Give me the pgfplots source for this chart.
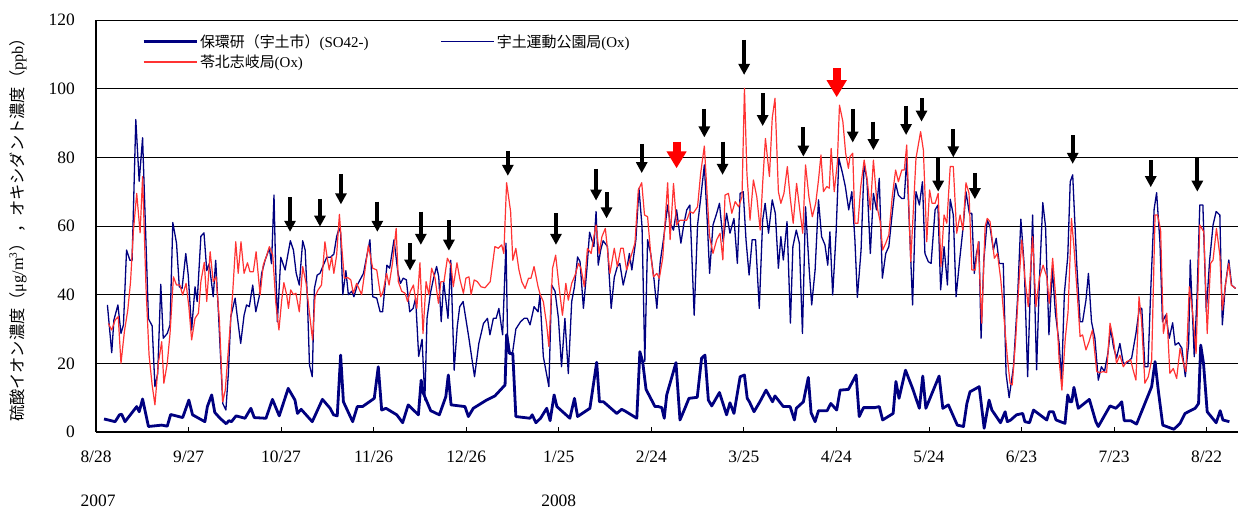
\documentclass[border=0pt]{standalone}
\usepackage{fontspec}
\setmainfont{Liberation Serif}
\newfontfamily\jp{Noto Sans CJK JP}
\usepackage{pgfplots}
\usepackage{pgfplotstable}
\pgfplotsset{compat=1.18}
\usetikzlibrary{arrows.meta}
\definecolor{navy}{RGB}{0,0,128}
\definecolor{oxred}{RGB}{255,51,51}

% sulfate ion, Hokanken (Uto city), ug/m3 ; x = days since 2007-08-28
\pgfplotstableread{
day val
2.6 3.8
6.2 3.0
7.6 5.0
8.3 5.2
9.4 3.0
13.2 7.4
14.0 5.9
15.1 9.6
17.0 1.6
21.3 2.0
23.1 1.7
24.2 5.1
28.1 4.2
30.1 9.3
31.3 5.0
35.3 3.0
36.1 7.4
37.5 10.8
38.5 5.7
40.2 4.0
42.2 2.4
43.1 3.3
43.9 3.0
45.4 4.7
48.3 4.0
50.2 6.9
51.3 4.2
55.1 4.0
57.2 9.5
59.4 4.7
62.3 12.7
64.5 9.3
65.3 5.4
66.5 6.6
70.1 3.0
73.4 9.5
75.9 6.9
77.0 5.0
78.2 4.7
79.3 22.4
80.2 8.8
83.2 3.0
84.7 7.4
86.4 7.4
90.2 9.8
91.5 19.0
92.6 6.4
94.0 6.9
97.5 5.0
99.4 2.7
101.2 7.9
104.5 5.0
105.4 15.1
106.1 11.3
108.5 6.2
111.3 5.0
113.4 10.3
114.2 16.6
115.1 7.9
119.6 7.4
120.7 4.5
122.3 6.9
126.6 9.3
129.3 10.5
132.6 13.7
133.1 28.3
134.0 22.9
135.1 22.9
136.1 4.5
140.7 4.0
141.4 5.0
142.6 2.7
144.1 4.0
146.1 6.9
147.2 3.3
148.5 10.8
149.4 7.4
153.6 4.0
155.1 9.8
156.1 4.5
160.1 6.9
162.3 20.3
163.2 8.8
164.5 8.8
168.8 5.4
170.4 6.6
171.5 6.1
175.3 4.0
176.3 23.4
177.2 20.5
178.3 12.4
181.2 7.4
182.3 7.4
183.4 7.1
184.2 4.0
185.0 10.8
188.0 20.2
189.3 3.5
190.9 6.9
192.2 9.8
194.9 10.1
196.3 21.5
197.4 22.4
198.5 9.3
199.6 7.6
202.1 11.5
204.4 5.0
205.5 8.5
206.8 5.4
208.8 16.1
210.2 16.6
211.1 9.8
211.8 8.8
213.3 5.9
215.2 8.8
217.2 12.2
219.3 8.8
220.1 10.5
222.8 7.4
225.0 7.4
226.4 3.5
227.0 6.9
229.3 8.8
230.9 15.9
231.8 5.6
233.1 3.0
234.2 6.2
237.0 6.2
238.2 8.3
240.1 6.4
241.2 12.2
243.9 12.4
246.4 16.6
247.4 4.5
248.8 7.1
252.5 7.1
253.9 7.4
255.0 3.5
258.4 5.4
259.3 14.7
260.3 9.8
262.4 18.0
264.7 12.7
266.9 6.9
268.0 16.3
269.0 6.9
273.3 16.3
274.5 6.9
276.3 7.9
279.2 2.0
281.2 1.6
282.3 8.3
283.3 11.7
286.3 13.2
287.9 1.1
289.5 9.3
290.4 6.4
293.2 2.7
294.7 5.9
295.4 3.0
296.5 3.5
298.4 5.0
300.4 5.4
301.1 3.0
302.6 2.7
303.9 6.4
308.2 3.5
309.0 5.9
310.3 5.9
311.2 3.5
314.1 2.5
315.0 10.8
315.7 8.8
316.3 8.8
317.0 13.0
318.4 6.9
322.0 9.5
324.1 3.0
324.9 1.6
328.7 7.6
330.6 6.9
331.7 7.9
332.5 8.8
333.3 3.3
335.4 3.3
337.3 2.3
342.2 13.2
343.3 20.5
344.4 11.7
345.8 2.0
349.4 0.8
351.4 2.5
353.0 5.4
356.3 6.9
357.4 8.3
358.1 25.3
359.0 20.0
360.2 5.9
363.1 2.7
364.4 6.2
365.3 3.5
367.4 3.0
}\sulfate

% oxidant, Uto sports park station, ppb
\pgfplotstableread{
day val
3.7 37.0
5.1 23.1
5.8 32.6
7.1 37.0
8.1 28.7
8.9 31.2
9.9 53.0
11.0 50.0
11.7 50.0
12.9 91.0
14.0 73.0
15.1 85.7
17.0 33.0
18.2 30.9
19.1 13.2
20.0 17.0
21.0 43.0
21.8 27.3
23.1 28.7
24.0 31.2
24.9 61.0
26.1 55.0
27.0 42.3
27.9 41.8
29.1 52.0
29.9 45.7
31.0 29.7
32.1 42.3
32.8 38.0
34.0 57.0
35.0 58.0
35.9 47.0
36.7 49.0
38.0 39.4
38.8 50.0
39.7 34.6
41.1 8.3
42.1 6.4
42.9 17.0
43.7 33.6
45.1 39.0
45.8 33.6
46.9 25.8
48.0 34.0
48.8 37.0
49.7 36.5
50.8 42.8
51.8 35.0
52.9 39.4
53.7 46.2
54.8 50.0
56.2 53.5
56.9 49.0
57.7 69.0
58.2 49.0
58.8 32.1
59.9 50.9
61.3 47.2
63.0 55.7
64.0 53.0
64.9 46.2
65.9 42.8
67.0 55.7
67.8 53.0
68.5 39.4
69.2 19.5
70.1 16.1
70.8 41.8
71.7 45.7
72.6 46.2
73.7 48.6
74.8 50.9
76.0 50.9
77.1 51.8
78.0 56.9
78.8 59.3
79.3 58.0
80.0 40.0
81.0 47.0
81.8 40.0
82.9 41.0
83.6 39.4
84.7 42.8
86.7 46.2
88.8 56.0
89.7 39.4
91.0 39.0
92.1 35.0
92.9 35.0
94.3 48.6
95.2 47.7
96.6 56.0
97.9 46.2
98.7 43.3
99.6 44.8
100.6 44.3
101.7 35.0
102.8 36.0
103.6 39.0
104.6 22.0
105.7 27.0
106.6 9.3
107.3 33.1
108.4 40.4
109.3 44.3
110.4 48.2
111.1 45.2
111.9 32.1
112.7 43.8
114.1 33.1
115.0 50.0
116.1 18.0
117.1 30.7
117.9 36.5
119.0 38.0
120.8 27.8
122.7 16.1
124.1 25.8
125.6 31.6
126.9 33.1
127.7 28.3
128.8 33.1
129.7 33.1
130.6 36.0
131.8 28.3
132.9 55.0
133.4 28.3
134.2 22.9
135.0 22.9
136.1 30.0
137.6 32.1
138.8 33.1
139.8 33.1
140.7 31.2
142.0 36.5
143.3 35.0
143.9 39.9
145.0 22.0
146.8 13.2
147.7 42.8
148.8 41.0
149.9 33.1
150.9 19.0
152.0 33.1
153.1 17.0
154.2 38.0
155.1 42.3
156.1 51.0
156.9 49.6
158.0 36.0
159.1 47.2
160.0 58.2
161.4 54.0
162.1 64.2
162.8 48.6
163.6 53.0
164.4 55.7
165.8 54.0
167.0 36.0
168.0 45.0
169.0 48.2
169.8 49.1
170.9 42.8
172.0 47.2
172.9 52.0
173.7 47.2
174.4 52.0
175.0 56.0
176.0 71.0
177.0 59.8
177.9 20.5
178.8 56.0
179.8 52.0
180.9 44.3
181.8 36.0
182.9 49.6
184.0 56.4
185.3 66.1
186.1 60.8
187.2 58.8
188.2 64.7
189.6 55.0
190.6 60.8
191.5 64.7
192.5 66.1
193.9 34.0
195.0 60.3
196.0 68.0
197.2 77.8
198.2 60.3
198.9 46.2
200.0 60.3
201.2 63.7
202.1 66.6
203.3 55.4
204.4 63.7
205.5 57.9
206.8 62.2
207.9 49.1
208.8 69.5
209.8 70.0
210.7 56.0
211.7 45.7
212.7 56.0
213.8 56.0
215.0 36.0
216.1 61.7
216.9 66.6
218.0 57.9
219.2 67.6
220.2 63.7
221.2 47.7
222.0 56.9
222.8 50.1
224.0 61.3
225.1 31.7
225.9 54.0
227.0 58.8
228.0 55.0
229.0 28.7
230.0 65.6
231.2 47.2
232.0 37.0
233.1 47.2
234.2 67.6
235.2 56.9
236.3 54.5
237.2 48.6
237.9 58.3
238.8 39.9
239.9 57.9
240.8 79.7
242.0 75.3
242.9 71.5
244.0 64.7
245.0 70.0
246.0 56.0
246.8 39.2
248.0 53.0
249.0 78.3
249.9 73.4
251.0 52.0
252.0 69.5
253.0 64.7
253.9 73.9
254.9 44.8
256.0 52.0
257.0 54.0
258.1 63.7
259.2 72.4
260.1 69.0
261.2 68.0
262.0 68.0
262.8 79.7
263.9 55.0
264.7 37.0
265.8 70.0
266.9 66.1
267.9 72.9
268.7 52.0
269.8 49.6
270.7 49.1
272.0 64.7
272.9 66.1
273.8 41.4
274.9 54.0
276.0 42.8
276.9 67.8
277.9 63.2
278.8 39.4
279.9 49.6
281.1 59.8
282.0 70.0
283.1 63.7
283.9 63.7
284.7 46.2
285.4 52.0
286.2 55.4
286.9 27.3
287.8 50.1
288.9 61.7
289.8 59.8
290.9 53.0
291.8 56.4
292.8 49.1
294.1 49.1
295.0 17.0
296.0 10.0
297.4 19.0
298.7 38.4
299.8 62.0
300.9 48.2
302.0 16.1
303.6 63.2
304.9 18.1
305.8 43.8
306.9 66.8
307.8 59.8
308.9 28.3
310.0 47.7
311.0 34.6
312.2 25.8
313.0 15.1
313.9 40.4
315.0 51.1
315.8 72.9
316.6 74.9
317.9 49.1
319.0 32.1
319.8 32.1
320.9 38.4
321.7 46.2
322.7 32.1
323.8 27.3
324.9 15.1
325.9 19.0
326.9 17.6
328.0 22.9
328.9 30.2
329.8 24.9
330.8 21.5
331.9 25.8
333.0 20.0
334.1 20.0
335.7 21.5
337.1 28.7
338.2 36.0
339.0 36.0
340.0 19.0
341.0 19.0
341.9 41.4
343.0 64.9
343.8 69.7
344.9 55.0
345.7 32.1
346.8 34.1
347.9 27.3
349.0 31.8
349.8 25.3
350.9 26.0
352.0 24.4
353.1 16.1
354.2 25.8
354.7 50.1
356.0 21.9
356.9 39.4
357.8 66.1
358.8 66.1
359.9 35.0
361.0 50.1
362.1 60.3
363.1 64.2
364.3 63.2
365.1 31.2
366.1 42.8
367.2 50.1
368.1 42.8
369.4 41.8
}\utoox

% oxidant, Reihoku Shiki station, ppb
\pgfplotstableread{
day val
4.0 31.6
5.1 29.7
6.2 32.6
7.2 33.6
8.1 20.0
9.2 29.2
10.3 35.5
11.2 43.8
12.1 58.3
13.2 69.5
14.3 58.0
15.1 74.4
16.2 42.3
17.2 22.4
18.2 13.7
19.1 7.9
20.2 20.0
21.3 26.3
22.0 14.2
23.1 20.0
24.0 28.7
25.1 45.2
26.1 42.8
27.2 42.8
28.1 39.9
29.2 43.3
30.1 36.5
31.0 26.8
32.1 33.1
33.2 34.6
34.0 43.8
35.1 49.4
35.9 38.0
37.0 52.5
38.0 43.8
38.9 45.2
40.0 32.6
41.1 8.8
41.9 12.2
43.4 29.7
44.3 40.4
45.3 55.4
46.1 46.2
47.0 55.4
48.0 46.2
49.1 49.3
49.9 46.7
51.0 46.7
51.9 52.5
53.2 39.9
54.2 48.6
55.3 51.3
56.2 54.0
57.3 51.5
58.3 37.5
59.3 29.7
60.2 38.4
60.9 43.5
61.8 40.0
62.4 36.0
63.1 41.4
64.0 40.0
64.8 40.4
65.9 35.0
67.0 48.2
68.1 43.3
69.2 34.6
70.2 26.8
71.0 39.4
72.0 41.4
73.1 42.8
74.2 55.4
74.9 51.0
75.6 47.2
76.4 51.0
77.1 46.2
78.0 51.5
78.9 63.4
79.7 53.5
80.5 44.8
81.6 45.0
82.6 44.3
83.4 40.4
84.5 43.3
86.1 40.0
87.2 47.2
88.3 54.3
89.7 47.7
91.0 47.2
92.3 39.4
93.1 41.0
94.2 46.2
95.0 42.8
96.1 49.1
97.3 59.3
98.0 43.8
99.1 41.0
100.2 40.4
101.0 38.0
101.9 41.0
102.9 42.8
104.0 36.0
105.0 49.3
106.0 28.7
107.0 43.8
107.9 40.0
108.8 47.7
109.9 44.8
111.0 37.5
111.8 43.8
112.8 43.8
113.9 50.6
115.1 48.6
115.8 42.3
117.0 49.3
118.0 44.3
119.1 40.4
119.9 44.8
120.9 45.2
121.6 40.0
122.6 44.3
123.6 43.8
124.8 42.3
126.1 42.0
127.8 43.8
129.3 54.0
130.4 53.5
131.5 54.5
132.2 52.0
133.1 72.6
134.4 64.2
135.1 50.0
136.1 53.5
137.1 47.2
138.0 43.8
139.1 41.8
140.2 44.8
141.0 44.8
142.0 48.2
143.3 42.3
144.0 40.0
145.0 38.0
146.1 31.2
146.8 24.9
148.0 47.7
149.0 51.5
150.1 42.3
151.2 34.0
152.3 43.3
153.1 38.4
154.2 43.3
155.3 45.7
156.4 49.1
157.2 47.7
158.3 42.3
159.3 53.5
160.5 52.0
161.2 56.0
162.1 60.3
163.1 52.0
164.0 56.9
165.1 59.3
166.6 46.2
168.0 53.5
169.0 48.2
170.1 53.5
170.9 53.5
172.0 47.2
172.9 49.6
173.7 52.0
174.7 55.0
175.8 70.5
176.9 72.6
177.8 63.2
178.8 62.7
179.8 52.0
180.7 45.2
181.8 46.2
182.6 44.8
183.7 50.6
185.3 72.6
186.1 56.0
187.2 72.4
188.2 60.3
189.3 61.7
190.4 61.7
191.5 61.7
192.5 64.2
193.6 63.7
195.0 65.6
196.0 75.3
197.2 83.3
198.2 67.6
198.9 56.9
200.0 52.0
201.2 56.0
202.3 57.9
203.2 50.1
203.9 69.0
205.0 69.5
206.1 63.7
207.2 67.1
208.3 65.6
209.4 68.5
210.2 100.1
211.0 75.3
212.0 61.7
213.1 73.4
214.2 68.5
215.3 58.8
216.1 72.4
217.0 85.5
218.3 74.4
219.2 91.4
220.1 97.2
221.2 70.0
222.0 66.6
223.0 69.5
224.1 77.3
225.0 68.5
226.0 60.8
227.1 72.4
228.2 64.2
229.1 57.9
230.0 77.8
231.1 68.5
232.2 62.7
233.3 66.6
234.2 73.4
235.0 80.7
235.8 70.0
236.9 71.5
237.7 71.0
238.3 82.6
239.3 70.0
240.3 78.3
241.0 95.2
242.1 90.4
243.0 81.2
243.9 76.8
244.4 80.2
245.3 81.2
246.0 60.8
247.0 60.8
247.9 71.5
249.0 79.2
250.0 73.4
251.0 64.7
252.0 79.2
253.3 65.1
254.2 61.3
255.0 53.0
256.0 55.0
257.0 57.4
258.1 68.5
259.2 76.3
260.1 72.9
261.2 76.3
262.0 76.3
262.8 83.6
264.1 49.6
265.8 79.7
267.3 87.5
268.2 82.1
269.3 55.4
270.2 70.5
271.0 66.6
272.0 66.6
273.0 69.5
273.9 48.2
274.9 63.2
275.8 60.8
276.9 77.3
277.9 77.3
279.0 57.9
280.1 63.2
281.0 58.8
282.0 72.6
283.0 69.5
283.9 47.2
285.0 47.2
286.0 55.4
287.1 31.7
288.2 59.8
288.9 62.2
289.8 61.3
291.2 50.6
292.2 52.0
293.3 44.3
294.3 33.6
295.4 21.9
296.3 14.2
297.0 13.7
298.1 26.8
299.2 43.8
300.1 55.9
301.1 44.8
302.2 36.5
303.6 56.9
304.7 36.5
305.8 44.8
307.0 48.6
308.2 45.2
309.0 37.5
310.1 50.6
311.2 38.0
312.2 21.0
313.1 12.2
314.2 27.3
315.1 35.0
316.2 62.2
317.0 54.0
318.1 39.9
319.0 27.8
319.8 28.3
320.9 23.9
321.9 26.3
323.0 29.7
324.4 17.6
325.4 17.3
326.5 17.6
327.6 17.3
328.7 31.7
329.8 26.8
330.8 20.0
331.9 22.4
333.0 19.0
334.1 20.5
335.4 21.0
336.2 18.0
337.1 15.1
338.1 39.4
338.9 32.6
340.0 14.2
341.1 16.1
342.2 21.0
343.3 63.2
344.1 63.2
345.1 58.8
346.0 28.7
347.1 34.6
348.1 17.1
349.2 18.5
350.3 15.6
351.4 24.4
352.5 20.0
353.3 17.6
354.4 42.3
355.5 34.6
356.6 22.9
357.8 60.3
359.1 58.3
360.2 28.7
361.3 49.1
362.1 50.1
363.2 59.3
364.3 51.5
365.1 35.5
366.1 42.8
367.2 49.1
368.0 42.8
369.4 41.8
}\reihokuox

\tikzset{
  blackarrow/.style={black, line width=4bp, -{Triangle[width=11bp,length=11bp]}},
  redarrow/.style={red, line width=8bp, -{Triangle[width=19bp,length=17bp]}}
}

\begin{document}
\begin{tikzpicture}[x=1bp,y=1bp]
\useasboundingbox (0,0) rectangle (1238,510);
\begin{axis}[
  at={(96bp,78bp)}, anchor=south west,
  scale only axis, width=1142bp, height=412bp,
  xmin=0, xmax=370.2, ymin=0, ymax=120,
  axis x line*=bottom, axis y line*=left,
  axis line style={line width=1.8bp, -},
  clip mode=individual,
  xtick={0,30,60,90,120,150,180,210,240,270,300,330,360},
  xticklabels={8/28,9/27,10/27,11/26,12/26,1/25,2/24,3/25,4/24,5/24,6/23,7/23,8/22},
  ytick={0,20,40,60,80,100,120},
  tick align=inside, major tick length=5bp,
  tick style={line width=0.8bp, black},
  ymajorgrids, grid style={line width=0.9bp, black},
  /pgf/number format/assume math mode=true,
  ticklabel style={font=\fontsize{17.5}{20}\selectfont},
  xticklabel style={anchor=north, inner sep=0pt, yshift=-19bp},
  yticklabel style={anchor=east, inner sep=0pt, xshift=-21bp},
  every axis y label/.style={at={(axis description cs:-0.0683,0.5)}, rotate=90, anchor=center},
  ylabel={\fontsize{16.3}{18}\selectfont{\jp 硫酸イオン濃度（}μg/m\textsuperscript{3}{\jp ）\,，オキシダント濃度（}ppb{\jp ）}},
  legend columns=2,
  legend cell align=left,
  legend style={at={(axis description cs:0.0403,0.9697)}, anchor=north west,
    draw=none, fill=none, inner sep=0pt, row sep=2bp,
    font=\fontsize{15}{18}\selectfont,
    /tikz/every even column/.append style={column sep=70bp}},
  legend image code/.code={\draw[#1] (0bp,0bp) -- (53bp,0bp);},
]
\addplot[navy, line width=2.8bp, line join=round] table[x=day, y=val] {\sulfate};
\addlegendentry{{\jp 保環研（宇土市）}(SO42-)}
\addplot[navy, line width=1.3bp, line join=round] table[x=day, y=val] {\utoox};
\addlegendentry{{\jp 宇土運動公園局}(Ox)}
\addplot[oxred, line width=1.2bp, line join=round] table[x=day, y=val] {\reihokuox};
\addlegendentry{{\jp 苓北志岐局}(Ox)}

% year labels under the date ticks
\node[font=\fontsize{17.5}{20}\selectfont, inner sep=0pt, anchor=base] at (axis cs:0.7,-21.6) {2007};
\node[font=\fontsize{17.5}{20}\selectfont, inner sep=0pt, anchor=base] at (axis cs:150,-21.6) {2008};

% marker arrows
\draw[blackarrow] (axis cs:62.9,68.4) -- (axis cs:62.9,58.3);
\draw[blackarrow] (axis cs:72.6,67.9) -- (axis cs:72.6,59.8);
\draw[blackarrow] (axis cs:79.4,75.2) -- (axis cs:79.4,66.3);
\draw[blackarrow] (axis cs:91.2,67.1) -- (axis cs:91.2,58.3);
\draw[blackarrow] (axis cs:101.8,55.0) -- (axis cs:101.8,47.0);
\draw[blackarrow] (axis cs:105.3,64.2) -- (axis cs:105.3,54.5);
\draw[blackarrow] (axis cs:114.4,61.8) -- (axis cs:114.4,52.8);
\draw[blackarrow] (axis cs:133.5,81.9) -- (axis cs:133.5,74.6);
\draw[blackarrow] (axis cs:149.1,63.7) -- (axis cs:149.1,54.5);
\draw[blackarrow] (axis cs:162.1,76.6) -- (axis cs:162.1,67.4);
\draw[blackarrow] (axis cs:165.5,69.8) -- (axis cs:165.5,62.2);
\draw[blackarrow] (axis cs:176.9,83.9) -- (axis cs:176.9,75.4);
\draw[redarrow]   (axis cs:188.2,84.6) -- (axis cs:188.2,76.8);
\draw[blackarrow] (axis cs:197.2,94.1) -- (axis cs:197.2,85.8);
\draw[blackarrow] (axis cs:203.1,84.6) -- (axis cs:203.1,74.9);
\draw[blackarrow] (axis cs:210.1,114.2) -- (axis cs:210.1,104.0);
\draw[blackarrow] (axis cs:216.1,98.7) -- (axis cs:216.1,89.1);
\draw[blackarrow] (axis cs:229.3,88.8) -- (axis cs:229.3,80.2);
\draw[redarrow]   (axis cs:240.1,105.9) -- (axis cs:240.1,97.5);
\draw[blackarrow] (axis cs:245.3,94.1) -- (axis cs:245.3,84.3);
\draw[blackarrow] (axis cs:252.0,90.4) -- (axis cs:252.0,82.1);
\draw[blackarrow] (axis cs:262.6,95.0) -- (axis cs:262.6,86.5);
\draw[blackarrow] (axis cs:267.6,97.2) -- (axis cs:267.6,90.4);
\draw[blackarrow] (axis cs:273.0,80.0) -- (axis cs:273.0,70.0);
\draw[blackarrow] (axis cs:277.9,88.2) -- (axis cs:277.9,80.0);
\draw[blackarrow] (axis cs:284.9,75.5) -- (axis cs:284.9,67.8);
\draw[blackarrow] (axis cs:316.6,86.5) -- (axis cs:316.6,78.1);
\draw[blackarrow] (axis cs:341.9,79.2) -- (axis cs:341.9,71.3);
\draw[blackarrow] (axis cs:357.0,79.7) -- (axis cs:357.0,70.0);
\end{axis}
\end{tikzpicture}
\end{document}
